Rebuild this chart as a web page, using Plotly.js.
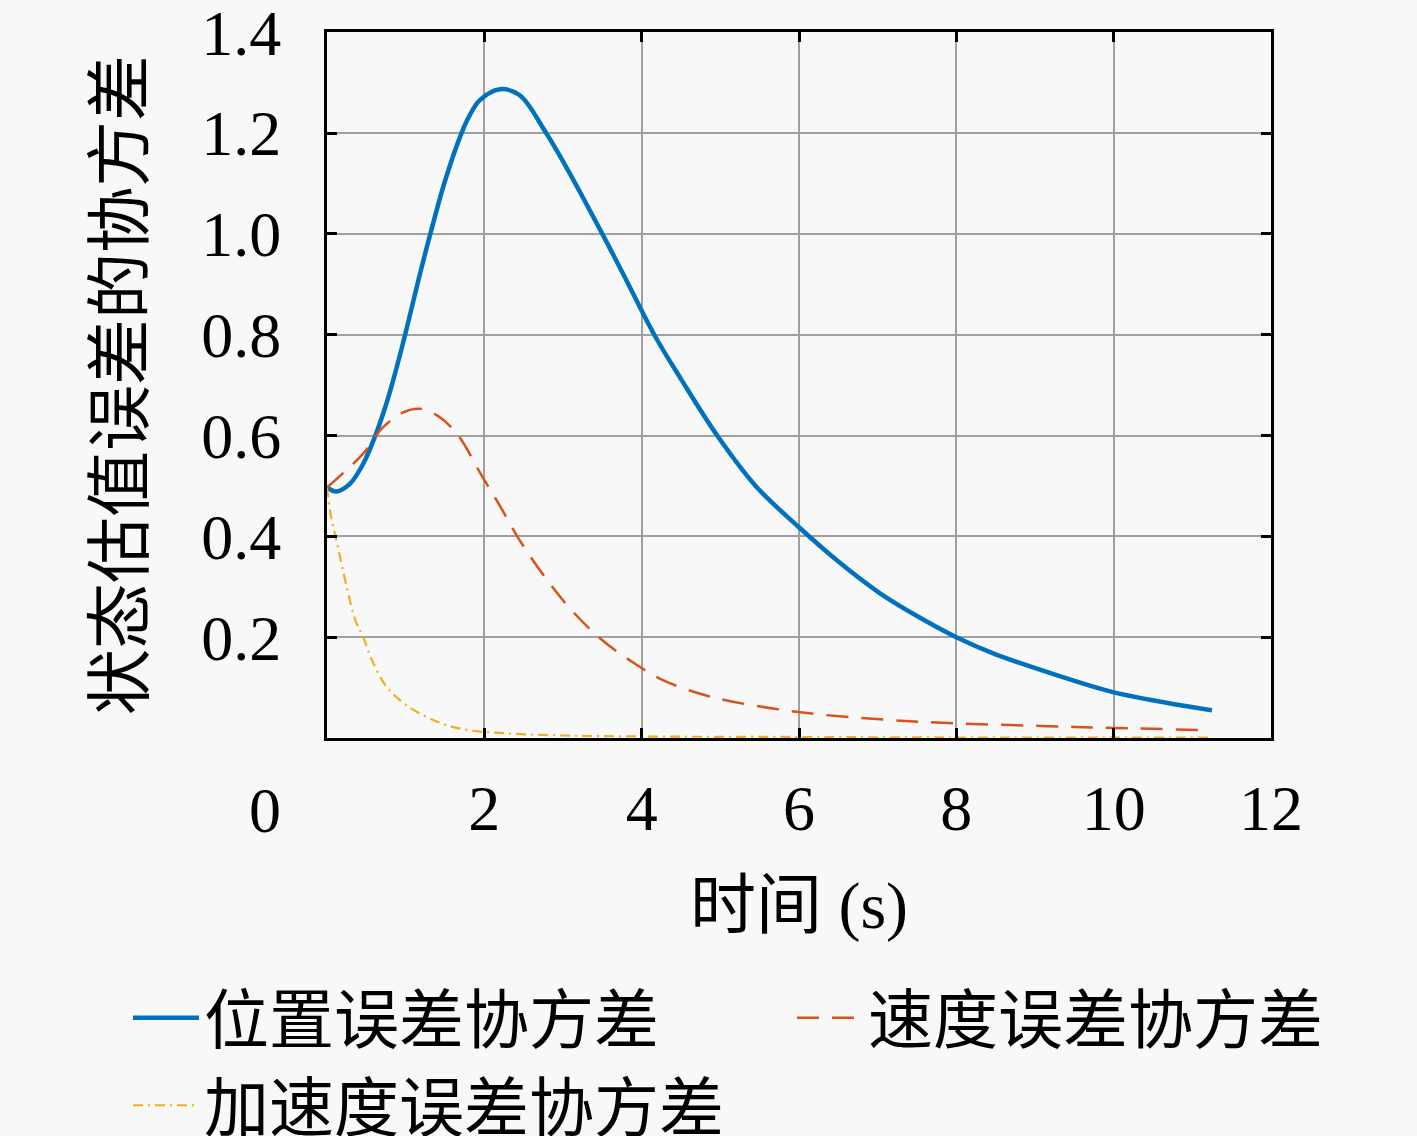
<!DOCTYPE html>
<html>
<head>
<meta charset="utf-8">
<script src="https://cdn.plot.ly/plotly-3.0.1.min.js"></script>
<style>
  html, body { margin: 0; padding: 0; background: #f8f8f8; }
  #chart { width: 1417px; height: 1136px; }
</style>
</head>
<body>
<div id="chart"></div>
<script>
// values
var posT = [0, 0.12, 0.29, 0.46, 0.61, 0.74, 0.84, 0.99, 1.16, 1.31, 1.5, 1.71, 1.82, 1.94, 2.2, 2.45, 2.77,
  3.05, 3.5, 3.76, 4.16, 4.5, 4.96, 5.46, 6.0, 6.5, 7.03, 7.5, 8.0, 8.5, 9.19, 9.99, 10.6, 11.25];
var posCov = [0.497, 0.489, 0.504, 0.544, 0.598, 0.656, 0.709, 0.798, 0.907, 0.998, 1.105, 1.2, 1.237, 1.265, 1.287, 1.275, 1.204,
  1.13, 1.0, 0.922, 0.8, 0.712, 0.6, 0.498, 0.418, 0.35, 0.287, 0.242, 0.2, 0.166, 0.129, 0.091, 0.072, 0.055];

var velT = [0, 0.2, 0.46, 0.71, 0.97, 1.18, 1.4, 1.65, 1.98, 2.2, 2.45, 2.8, 3.1, 3.47,
  3.85, 4.27, 4.9, 5.97, 7.03, 8.0, 9.06, 10.0, 11.1];
var velCov = [0.497, 0.525, 0.564, 0.616, 0.646, 0.653, 0.64, 0.604, 0.517, 0.46, 0.392, 0.313, 0.255, 0.198,
  0.154, 0.115, 0.081, 0.052, 0.037, 0.029, 0.024, 0.02, 0.016];

var accT = [0, 0.05, 0.12, 0.25, 0.36, 0.46, 0.57, 0.76, 1.05, 1.44, 1.78, 2.2, 3, 4, 6, 8, 11.2];
var accCov = [0.497, 0.44, 0.392, 0.30, 0.234, 0.2, 0.155, 0.101, 0.061, 0.03, 0.016, 0.01, 0.005, 0.003, 0.002, 0.001, 0.001];

var seriesNames = ['位置误差协方差', '速度误差协方差', '加速度误差协方差'];
var xTicks = [2, 4, 6, 8, 10, 12];
var yTicks = [0.2, 0.4, 0.6, 0.8, 1.0, 1.2, 1.4];
var yTickText = ['0.2', '0.4', '0.6', '0.8', '1.0', '1.2', '1.4'];
var xTitle = '时间 (s)';
var yTitle = '状态估值误差的协方差';

var numFont = 'Liberation Serif, Noto Sans CJK SC, serif';
var cjkFont = 'Noto Sans CJK SC, sans-serif';

var data = [
  {
    type: 'scatter', mode: 'lines', name: seriesNames[0], legend: 'legend',
    x: posT, y: posCov,
    line: { color: '#0072BD', width: 4.5, shape: 'spline', smoothing: 1 }
  },
  {
    type: 'scatter', mode: 'lines', name: seriesNames[1], legend: 'legend2',
    x: velT, y: velCov,
    line: { color: '#D95319', width: 2.5, dash: '22px,13px', shape: 'spline', smoothing: 1 }
  },
  {
    type: 'scatter', mode: 'lines', name: seriesNames[2], legend: 'legend',
    x: accT, y: accCov,
    line: { color: '#EDB120', width: 2.2, dash: '10px,5px,2px,5px', shape: 'spline', smoothing: 1 }
  }
];

// two legends so the second entry can sit to the right of the first
var legendBase = {
  orientation: 'v',
  xref: 'container', yref: 'container',
  xanchor: 'left', yanchor: 'top',
  itemwidth: 66,
  bgcolor: 'rgba(0,0,0,0)',
  font: { family: cjkFont, size: 65 }
};

var layout = {
  width: 1417, height: 1136,
  paper_bgcolor: '#f8f8f8', plot_bgcolor: '#f8f8f8',
  margin: { l: 327, r: 146, t: 32, b: 398, autoexpand: false },
  font: { family: numFont, size: 64, color: '#000' },
  xaxis: {
    range: [0, 12],
    tickvals: xTicks,
    ticks: 'inside', ticklen: 10, tickwidth: 3, tickcolor: '#000',
    ticklabelstandoff: 12, ticklabeloverflow: 'allow',
    showline: true, linewidth: 3, linecolor: '#000', mirror: 'ticks',
    showgrid: true, gridcolor: '#a0a0a0', gridwidth: 2,
    zeroline: false,
    tickfont: { family: numFont, size: 64 },
    title: { text: xTitle, font: { family: numFont, size: 66 }, standoff: 40 }
  },
  yaxis: {
    range: [0, 1.4005],
    tickvals: yTicks, ticktext: yTickText,
    ticks: 'inside', ticklen: 10, tickwidth: 3, tickcolor: '#000',
    ticklabelstandoff: 30, ticklabeloverflow: 'allow',
    showline: true, linewidth: 3, linecolor: '#000', mirror: 'ticks',
    showgrid: true, gridcolor: '#a0a0a0', gridwidth: 2,
    zeroline: false,
    tickfont: { family: numFont, size: 64 }
  },
  showlegend: true,
  legend: Object.assign({}, legendBase, { x: 128 / 1417, y: 1 - 969 / 1136 }),
  legend2: Object.assign({}, legendBase, { x: 792 / 1417, y: 1 - 969 / 1136 }),
  annotations: [
    {
      // y axis title (the axis title lands inside the plot with fixed margins)
      text: yTitle, xref: 'paper', yref: 'paper', x: 0, y: 0.5,
      xanchor: 'center', yanchor: 'middle', xshift: -213, textangle: -90,
      showarrow: false, font: { family: cjkFont, size: 66 }
    },
    {
      text: '0', xref: 'paper', yref: 'paper', x: 0, y: 0,
      xanchor: 'center', yanchor: 'middle', xshift: -62, yshift: -72,
      showarrow: false, font: { family: numFont, size: 64 }
    }
  ]
};

Plotly.newPlot('chart', data, layout, { displayModeBar: false });
</script>
</body>
</html>
